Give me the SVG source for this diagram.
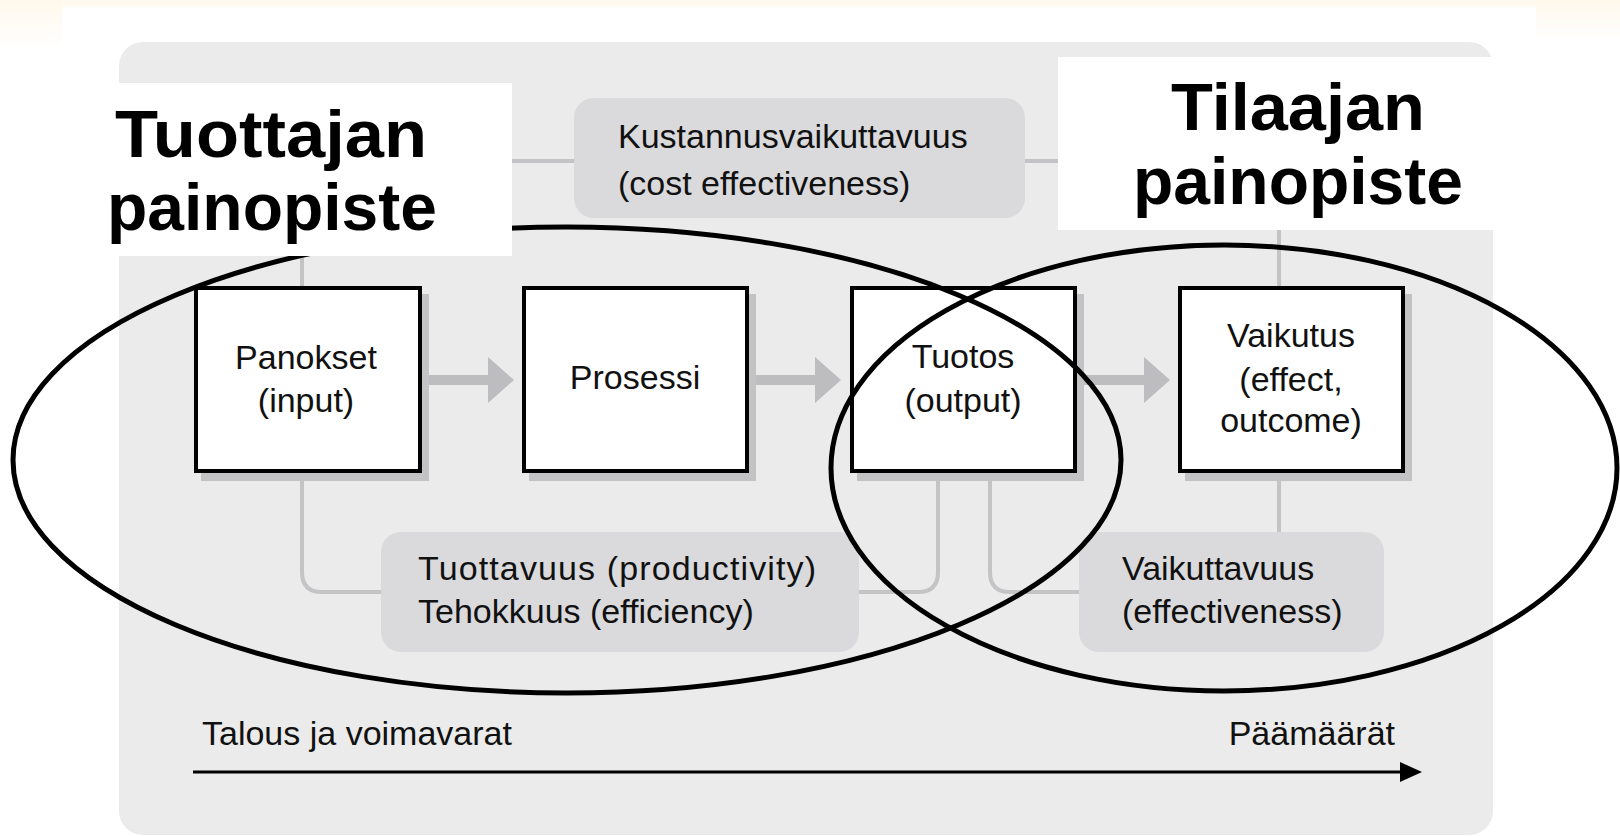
<svg xmlns="http://www.w3.org/2000/svg" width="1620" height="836" viewBox="0 0 1620 836">
  <defs>
    <style>
      .panel { fill: #ebebeb; }
      .conn { fill: none; stroke: #c4c4c6; stroke-width: 4; }
      .arrow { fill: #bdbdbf; }
      .gbox { fill: #dadadc; }
      .node { fill: #ffffff; stroke: #000000; stroke-width: 4; }
      .shadow { fill: #c3c3c5; }
      .txt { font-family: "Liberation Sans", Arial, sans-serif; font-size: 34px; fill: #111111; }
      .mid { text-anchor: middle; }
      .big { font-family: "Liberation Sans", Arial, sans-serif; font-size: 66px; font-weight: bold; fill: #000000; text-anchor: middle; }
      .ell { fill: none; stroke: #000000; stroke-width: 5; }
      .label { fill: #ffffff; }
    </style>
    <linearGradient id="creamL" x1="0" y1="0" x2="0" y2="1">
      <stop offset="0" stop-color="#fff8ec"/>
      <stop offset="1" stop-color="#ffffff"/>
    </linearGradient>
  </defs>

  <!-- page background -->
  <rect x="0" y="0" width="1620" height="836" fill="#ffffff"/>
  <rect x="0" y="0" width="1620" height="7" fill="#fff9ef"/>
  <rect x="0" y="0" width="62" height="50" fill="url(#creamL)"/>
  <rect x="1536" y="0" width="84" height="42" fill="url(#creamL)"/>

  <!-- gray panel -->
  <rect class="panel" x="119" y="42" width="1374" height="793" rx="24" ry="24"/>

  <!-- connectors -->
  <g id="connectors">
    <path class="conn" d="M 302 286 V 161 H 574"/>
    <path class="conn" d="M 1024 161 H 1279 V 286"/>
    <path class="conn" d="M 302 473 V 572 Q 302 592 322 592 H 381"/>
    <path class="conn" d="M 938 473 V 572 Q 938 592 918 592 H 859"/>
    <path class="conn" d="M 990 473 V 572 Q 990 592 1010 592 H 1079"/>
    <path class="conn" d="M 1279 473 V 532"/>
    <path class="arrow" d="M 422 375 H 488 V 357 L 514 380 L 488 403 V 385 H 422 Z"/>
    <path class="arrow" d="M 749 375 H 815 V 357 L 841 380 L 815 403 V 385 H 749 Z"/>
    <path class="arrow" d="M 1077 375 H 1144 V 357 L 1170 380 L 1144 403 V 385 H 1077 Z"/>
    <path d="M 193 772 H 1402" stroke="#000000" stroke-width="3" fill="none"/>
    <path d="M 1400 762 L 1422 772 L 1400 782 Z" fill="#000000"/>
  </g>

  <!-- measure boxes -->
  <g id="kustannus">
    <rect class="gbox" x="574" y="98" width="451" height="120" rx="20" ry="20"/>
    <text class="txt" x="618" y="148">Kustannusvaikuttavuus</text>
    <text class="txt" x="618" y="195">(cost effectiveness)</text>
  </g>
  <g id="tuottavuus">
    <rect class="gbox" x="381" y="532" width="478" height="120" rx="20" ry="20"/>
    <text class="txt" x="418" y="580" textLength="398">Tuottavuus (productivity)</text>
    <text class="txt" x="418" y="623">Tehokkuus (efficiency)</text>
  </g>
  <g id="vaikuttavuus">
    <rect class="gbox" x="1079" y="532" width="305" height="120" rx="20" ry="20"/>
    <text class="txt" x="1122" y="580">Vaikuttavuus</text>
    <text class="txt" x="1122" y="623">(effectiveness)</text>
  </g>

  <!-- process nodes -->
  <g id="panokset">
    <rect class="shadow" x="201" y="294" width="228" height="187"/>
    <rect class="node" x="196" y="288" width="224" height="183"/>
    <text class="txt mid" x="306" y="369">Panokset</text>
    <text class="txt mid" x="306" y="412">(input)</text>
  </g>
  <g id="prosessi">
    <rect class="shadow" x="529" y="294" width="227" height="187"/>
    <rect class="node" x="524" y="288" width="223" height="183"/>
    <text class="txt mid" x="635" y="389">Prosessi</text>
  </g>
  <g id="tuotos">
    <rect class="shadow" x="857" y="294" width="227" height="187"/>
    <rect class="node" x="852" y="288" width="223" height="183"/>
    <text class="txt mid" x="963" y="368">Tuotos</text>
    <text class="txt mid" x="963" y="412">(output)</text>
  </g>
  <g id="vaikutus">
    <rect class="shadow" x="1185" y="294" width="227" height="187"/>
    <rect class="node" x="1180" y="288" width="223" height="183"/>
    <text class="txt mid" x="1291" y="347">Vaikutus</text>
    <text class="txt mid" x="1291" y="391">(effect,</text>
    <text class="txt mid" x="1291" y="432">outcome)</text>
  </g>

  <!-- axis labels -->
  <g id="axis">
    <text class="txt" x="202" y="745">Talous ja voimavarat</text>
    <text class="txt" x="1395" y="745" text-anchor="end">Päämäärät</text>
  </g>

  <!-- ellipses -->
  <g id="ellipses">
    <ellipse class="ell" cx="567" cy="460" rx="554" ry="233"/>
    <ellipse class="ell" cx="1224" cy="468" rx="393" ry="223"/>
  </g>

  <!-- emphasis labels -->
  <g id="tuottajan-painopiste">
    <rect class="label" x="62" y="83" width="450" height="173"/>
    <text class="big" x="271" y="157" textLength="312" lengthAdjust="spacingAndGlyphs">Tuottajan</text>
    <text class="big" x="272" y="230">painopiste</text>
  </g>
  <g id="tilaajan-painopiste">
    <rect class="label" x="1058" y="57" width="436" height="173"/>
    <text class="big" x="1298" y="130" textLength="254" lengthAdjust="spacingAndGlyphs">Tilaajan</text>
    <text class="big" x="1298" y="204">painopiste</text>
  </g>
</svg>
